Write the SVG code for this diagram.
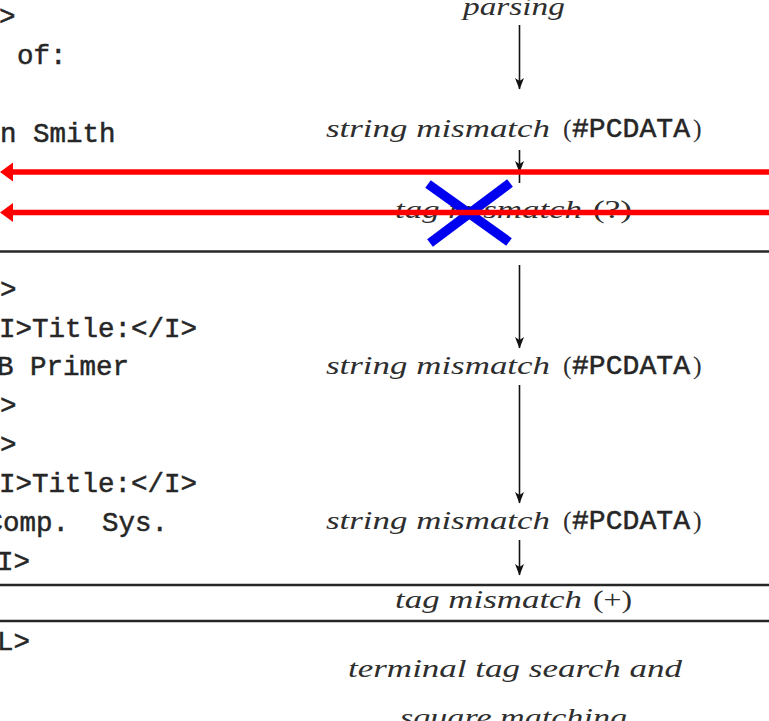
<svg xmlns="http://www.w3.org/2000/svg" width="769" height="721" viewBox="0 0 769 721">
  <style>
    .it { font-family: "Liberation Serif", "DejaVu Serif", serif; font-style: italic; font-size: 26px; fill: #2e2e2e; }
    .rm { font-family: "Liberation Serif", "DejaVu Serif", serif; font-size: 26px; fill: #2e2e2e; }
    .tt { font-family: "Liberation Mono", "DejaVu Sans Mono", monospace; font-size: 27.5px; fill: #262626; stroke: #262626; stroke-width: 0.5; }
    .rule { stroke: #262626; stroke-width: 2.5; }
    .flow { stroke: #111; stroke-width: 1.6; fill: none; }
    .mark { stroke: #ff0000; stroke-width: 5.5; fill: none; }
    .cross { stroke: #0000f0; stroke-width: 9.5; stroke-linecap: butt; }
  </style>
  <defs>
    <marker id="head" viewBox="-12 -6 13 12" refX="0" refY="0" markerWidth="13" markerHeight="12" markerUnits="userSpaceOnUse" orient="auto">
      <path d="M0.5,0 L-11,-4.5 L-8,0 L-11,4.5 Z" fill="#111"/>
    </marker>
    <marker id="redhead" viewBox="-4 -10 15 20" refX="0" refY="0" markerWidth="15" markerHeight="20" markerUnits="userSpaceOnUse" orient="auto">
      <path d="M10,0 L-3,-9.5 L-3,9.5 Z" fill="#ff0000"/>
    </marker>
  </defs>

  <rect width="769" height="721" fill="#ffffff"/>

  <!-- horizontal rules -->
  <g id="rules">
    <line class="rule" x1="0" y1="251.5" x2="769" y2="251.5"/>
    <line class="rule" x1="0" y1="585" x2="769" y2="585"/>
    <line class="rule" x1="0" y1="621" x2="769" y2="621"/>
  </g>

  <!-- document source column -->
  <g id="source">
    <text class="tt" x="-1" y="25">&gt;</text>
    <text class="tt" x="17" y="64">of:</text>
    <text class="tt" x="0" y="142">n Smith</text>
    <text class="tt" x="0" y="298">&gt;</text>
    <text class="tt" x="-1" y="337">I&gt;Title:&lt;/I&gt;</text>
    <text class="tt" x="-3" y="375">B Primer</text>
    <text class="tt" x="0" y="414">&gt;</text>
    <text class="tt" x="0" y="453">&gt;</text>
    <text class="tt" x="-1" y="492">I&gt;Title:&lt;/I&gt;</text>
    <text class="tt" x="-13.5" y="531" xml:space="preserve">Comp.  Sys.</text>
    <text class="tt" x="-3" y="570">I&gt;</text>
    <text class="tt" x="-3" y="650">L&gt;</text>
  </g>

  <!-- processing steps -->
  <g id="step-parsing">
    <text class="it" x="463" y="15" textLength="102" lengthAdjust="spacingAndGlyphs">parsing</text>
  </g>
  <g id="step-string1">
    <text class="it" x="326" y="137" textLength="224" lengthAdjust="spacingAndGlyphs">string mismatch</text>
    <text class="rm" x="563" y="137">(</text>
    <text class="tt" x="572" y="137" textLength="118" lengthAdjust="spacingAndGlyphs">#PCDATA</text>
    <text class="rm" x="693" y="137">)</text>
  </g>
  <g id="step-tag1">
    <text class="it" x="395" y="218" textLength="187" lengthAdjust="spacingAndGlyphs">tag mismatch</text>
    <text class="rm" x="593" y="218" textLength="39" lengthAdjust="spacingAndGlyphs">(?)</text>
  </g>
  <g id="step-string2">
    <text class="it" x="326" y="374" textLength="224" lengthAdjust="spacingAndGlyphs">string mismatch</text>
    <text class="rm" x="563" y="374">(</text>
    <text class="tt" x="572" y="374" textLength="118" lengthAdjust="spacingAndGlyphs">#PCDATA</text>
    <text class="rm" x="693" y="374">)</text>
  </g>
  <g id="step-string3">
    <text class="it" x="326" y="529" textLength="224" lengthAdjust="spacingAndGlyphs">string mismatch</text>
    <text class="rm" x="563" y="529">(</text>
    <text class="tt" x="572" y="529" textLength="118" lengthAdjust="spacingAndGlyphs">#PCDATA</text>
    <text class="rm" x="693" y="529">)</text>
  </g>
  <g id="step-tag2">
    <text class="it" x="395" y="608" textLength="187" lengthAdjust="spacingAndGlyphs">tag mismatch</text>
    <text class="rm" x="593" y="608" textLength="39" lengthAdjust="spacingAndGlyphs">(+)</text>
  </g>
  <g id="step-terminal">
    <text class="it" x="348" y="677" textLength="334" lengthAdjust="spacingAndGlyphs">terminal tag search and</text>
    <text class="it" x="400" y="726" textLength="227" lengthAdjust="spacingAndGlyphs">square matching</text>
  </g>

  <!-- flow connectors -->
  <g id="connectors">
    <line class="flow" x1="519.5" y1="25" x2="519.5" y2="89" marker-end="url(#head)"/>
    <line class="flow" x1="519.5" y1="150" x2="519.5" y2="172" marker-end="url(#head)"/>
    <line class="flow" x1="519.5" y1="172" x2="519.5" y2="183"/>
    <line class="flow" x1="519.5" y1="265" x2="519.5" y2="348" marker-end="url(#head)"/>
    <line class="flow" x1="519.5" y1="385" x2="519.5" y2="503" marker-end="url(#head)"/>
    <line class="flow" x1="519.5" y1="540" x2="519.5" y2="575" marker-end="url(#head)"/>
  </g>

  <!-- rejection cross -->
  <g id="cross">
    <line class="cross" x1="428" y1="184" x2="509" y2="242"/>
    <line class="cross" x1="510" y1="183" x2="430" y2="243"/>
  </g>

  <!-- backtracking arrows -->
  <g id="backtrack">
    <line class="mark" x1="769" y1="172" x2="10" y2="172" marker-end="url(#redhead)"/>
    <line class="mark" x1="769" y1="212.5" x2="10" y2="212.5" marker-end="url(#redhead)"/>
  </g>
</svg>
